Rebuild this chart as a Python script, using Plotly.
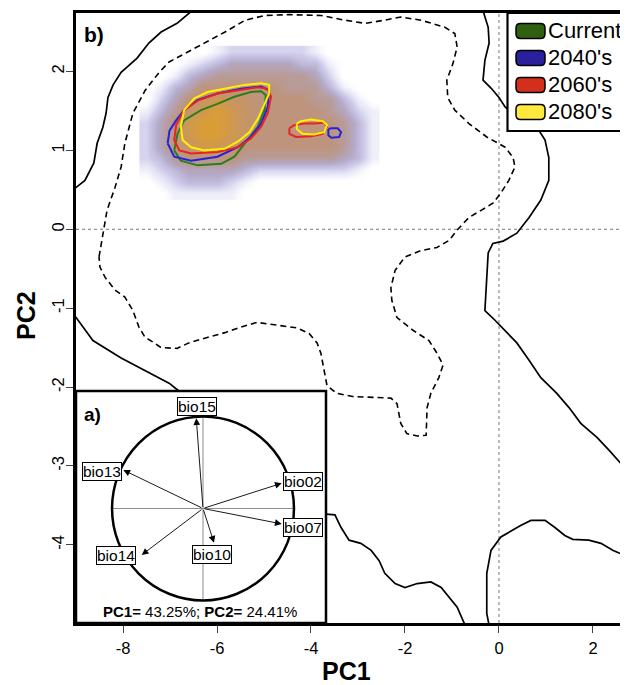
import plotly.graph_objects as go

FONT = "Liberation Sans, Arial, sans-serif"

# ---------------- data (PC1 / PC2 units) ----------------
x_ticks = [-8, -6, -4, -2, 0, 2]
x_tick_labels = ["-8", "-6", "-4", "-2", "0", "2"]
y_ticks = [-4, -3, -2, -1, 0, 1, 2]
y_tick_labels = ["-4", "-3", "-2", "-1", "0", "1", "2"]

# environmental background, solid contour (pieces)
solid_contour = [
    [(-6.53, 2.77), (-6.85, 2.61), (-7.19, 2.50), (-7.45, 2.36), (-7.70, 2.17), (-8.04, 1.99),
     (-8.21, 1.83), (-8.32, 1.67), (-8.36, 1.47), (-8.43, 1.29), (-8.55, 1.09), (-8.62, 0.84),
     (-8.81, 0.62), (-9.02, 0.52)],
    [(-9.02, -1.10), (-8.64, -1.41), (-8.04, -1.63), (-7.53, -1.79), (-7.02, -1.95), (-6.81, -2.05)],
    [(-3.68, -3.61), (-3.49, -3.62), (-3.36, -3.78), (-3.19, -3.94), (-2.94, -3.98), (-2.72, -4.07),
     (-2.55, -4.20), (-2.43, -4.36), (-2.21, -4.49), (-2.00, -4.54), (-1.74, -4.49), (-1.45, -4.47),
     (-1.23, -4.54), (-1.06, -4.66), (-0.89, -4.79), (-0.72, -5.02)],
    [(-0.21, -5.02), (-0.26, -4.87), (-0.26, -4.36), (-0.17, -4.07), (0.04, -3.90), (0.21, -3.84),
     (0.47, -3.75), (0.68, -3.69), (0.98, -3.69), (1.19, -3.78), (1.40, -3.88), (1.57, -3.93),
     (1.91, -3.94), (2.17, -3.98), (2.43, -4.07), (2.78, -4.16)],
    [(-0.34, 2.77), (-0.23, 2.56), (-0.21, 2.36), (-0.30, 2.14), (-0.34, 1.89), (-0.17, 1.79),
     (0.00, 1.67), (0.13, 1.55), (0.38, 1.42), (0.81, 1.29), (0.98, 1.13), (1.06, 0.91),
     (1.06, 0.62), (0.89, 0.37), (0.64, 0.15), (0.38, -0.05), (0.09, -0.15), (-0.13, -0.18),
     (-0.23, -0.30), (-0.26, -0.61), (-0.28, -0.90), (-0.30, -1.03), (-0.09, -1.15), (0.13, -1.28),
     (0.38, -1.44), (0.64, -1.66), (0.89, -1.88), (1.23, -2.08), (1.49, -2.26), (1.74, -2.46),
     (2.09, -2.64), (2.34, -2.80), (2.60, -2.97), (2.78, -3.09)],
]

# environmental background, dashed contour (closed)
dashed_contour = [
    (-8.51, -0.35), (-8.43, -0.05), (-8.34, 0.24), (-8.17, 0.53), (-8.04, 0.79), (-7.96, 1.09),
    (-7.79, 1.47), (-7.53, 1.76), (-7.23, 1.99), (-7.02, 2.12), (-6.68, 2.23), (-6.26, 2.36),
    (-5.83, 2.50), (-5.40, 2.65), (-4.98, 2.71), (-4.47, 2.72), (-3.79, 2.71), (-3.28, 2.65),
    (-2.85, 2.61), (-2.43, 2.65), (-2.09, 2.69), (-1.66, 2.65), (-1.15, 2.56), (-0.94, 2.48),
    (-0.89, 2.31), (-0.98, 2.10), (-1.11, 1.89), (-1.09, 1.67), (-0.94, 1.51), (-0.64, 1.34),
    (-0.26, 1.17), (0.13, 1.04), (0.30, 0.91), (0.34, 0.79), (0.21, 0.62), (0.04, 0.46),
    (-0.13, 0.33), (-0.38, 0.24), (-0.64, 0.15), (-0.89, -0.01), (-1.06, -0.14), (-1.32, -0.23),
    (-1.66, -0.27), (-2.00, -0.35), (-2.21, -0.52), (-2.30, -0.74), (-2.28, -0.90), (-2.17, -1.12),
    (-1.83, -1.28), (-1.49, -1.41), (-1.32, -1.57), (-1.19, -1.72), (-1.28, -1.88), (-1.45, -2.08),
    (-1.53, -2.26), (-1.55, -2.61), (-1.74, -2.62), (-1.96, -2.59), (-2.09, -2.46), (-2.17, -2.21),
    (-2.30, -2.14), (-2.68, -2.13), (-3.11, -2.12), (-3.45, -2.08), (-3.66, -1.98), (-3.72, -1.79),
    (-3.79, -1.57), (-3.87, -1.44), (-4.04, -1.32), (-4.30, -1.25), (-4.64, -1.22), (-5.15, -1.18),
    (-5.49, -1.24), (-5.83, -1.31), (-6.26, -1.38), (-6.60, -1.44), (-6.85, -1.51), (-7.19, -1.50),
    (-7.36, -1.43), (-7.53, -1.37), (-7.66, -1.24), (-7.79, -1.03), (-7.96, -0.86), (-8.17, -0.77),
    (-8.38, -0.61), (-8.49, -0.48),
]

# occupancy density raster (read on a coarse grid, 0..9)
dens_x = [-7.5, -7.2, -6.9, -6.6, -6.3, -6.0, -5.7, -5.4, -5.1, -4.8, -4.5, -4.2, -3.9, -3.6, -3.3, -3.0, -2.7]
dens_y = [0.45, 0.60, 0.75, 0.90, 1.05, 1.20, 1.35, 1.50, 1.65, 1.80, 1.95, 2.10, 2.25]
dens_z = [
    [0, 0, 1, 1, 1, 1, 1, 0, 0, 0, 0, 0, 0, 0, 0, 0, 0],
    [0, 1, 2, 3, 3, 3, 2, 1, 0, 0, 0, 0, 0, 0, 0, 0, 0],
    [1, 2, 3, 4, 4, 4, 4, 3, 2, 2, 2, 2, 2, 2, 2, 1, 0],
    [2, 3, 5, 6, 6, 6, 6, 5, 5, 5, 5, 5, 5, 5, 4, 3, 1],
    [2, 4, 6, 7, 8, 8, 7, 6, 6, 6, 6, 6, 6, 6, 5, 3, 1],
    [2, 4, 6, 8, 9, 9, 8, 7, 6, 6, 6, 6, 6, 6, 5, 3, 1],
    [2, 4, 6, 8, 9, 9, 8, 7, 6, 6, 6, 6, 6, 6, 5, 3, 1],
    [1, 3, 5, 7, 8, 9, 8, 7, 6, 6, 6, 6, 6, 5, 4, 2, 1],
    [0, 2, 4, 6, 7, 8, 7, 7, 6, 6, 6, 6, 5, 5, 3, 1, 0],
    [0, 1, 3, 4, 6, 6, 6, 6, 6, 6, 5, 5, 5, 3, 1, 0, 0],
    [0, 0, 1, 3, 4, 5, 5, 5, 5, 5, 5, 5, 4, 2, 0, 0, 0],
    [0, 0, 0, 1, 2, 3, 4, 4, 4, 4, 4, 3, 3, 1, 0, 0, 0],
    [0, 0, 0, 0, 0, 1, 2, 2, 2, 2, 2, 2, 1, 0, 0, 0, 0],
]

periods = ["Current", "2040's", "2060's", "2080's"]
line_colors = ["#2b7d1e", "#2323dc", "#e82323", "#fff000"]
swatch_colors = ["#2f5f10", "#2a1f9c", "#d2301c", "#ffe93c"]

# niche contours per period (closed loops)
niche_contours = {
    "Current": [
        [(-6.91, 1.00), (-6.84, 1.21), (-6.70, 1.38), (-6.34, 1.51), (-5.99, 1.59), (-5.63, 1.68),
         (-5.28, 1.74), (-5.06, 1.75), (-4.96, 1.70), (-4.99, 1.51), (-5.13, 1.30), (-5.35, 1.13),
         (-5.63, 0.92), (-5.91, 0.83), (-6.41, 0.81), (-6.77, 0.87)],
    ],
    "2040's": [
        [(-7.05, 1.09), (-7.01, 1.25), (-6.87, 1.38), (-6.70, 1.51), (-6.41, 1.64), (-5.99, 1.72),
         (-5.49, 1.78), (-5.06, 1.81), (-4.89, 1.76), (-4.92, 1.55), (-5.06, 1.34), (-5.28, 1.17),
         (-5.56, 1.04), (-5.99, 0.92), (-6.55, 0.87), (-6.91, 0.92)],
        [(-3.63, 1.27), (-3.57, 1.28), (-3.43, 1.28), (-3.36, 1.23), (-3.40, 1.17), (-3.57, 1.16),
         (-3.63, 1.19)],
    ],
    "2060's": [
        [(-6.91, 1.13), (-6.87, 1.32), (-6.70, 1.51), (-6.41, 1.63), (-5.99, 1.72), (-5.56, 1.76),
         (-5.13, 1.80), (-4.92, 1.78), (-4.85, 1.68), (-4.92, 1.47), (-5.06, 1.30), (-5.28, 1.15),
         (-5.56, 1.04), (-5.99, 0.98), (-6.55, 0.96), (-6.80, 1.00)],
        [(-4.46, 1.28), (-4.36, 1.32), (-4.14, 1.34), (-3.93, 1.34), (-3.72, 1.35), (-3.66, 1.30),
         (-3.75, 1.21), (-4.00, 1.18), (-4.32, 1.17), (-4.46, 1.21)],
    ],
    "2080's": [
        [(-6.77, 1.30), (-6.70, 1.51), (-6.48, 1.66), (-6.20, 1.74), (-5.84, 1.78), (-5.42, 1.83),
         (-5.06, 1.85), (-4.89, 1.83), (-4.89, 1.72), (-4.99, 1.59), (-5.13, 1.40), (-5.31, 1.23),
         (-5.56, 1.11), (-5.84, 1.02), (-6.27, 1.00), (-6.55, 1.04), (-6.73, 1.13)],
        [(-4.30, 1.34), (-4.21, 1.37), (-4.00, 1.39), (-3.75, 1.37), (-3.66, 1.32), (-3.72, 1.23),
         (-3.93, 1.20), (-4.18, 1.21), (-4.30, 1.27)],
    ],
}

# correlation circle (inset a)
variables = ["bio15", "bio13", "bio02", "bio07", "bio14", "bio10"]
load_pc1 = [-0.074, -0.876, 0.865, 0.865, -0.674, 0.121]
load_pc2 = [0.980, 0.418, 0.274, -0.168, -0.505, -0.372]
label_pc1 = [-0.066, -1.110, 1.096, 1.096, -0.953, 0.097]
label_pc2 = [1.109, 0.400, 0.291, -0.203, -0.516, -0.502]
inertia_pc1 = "43.25%"
inertia_pc2 = "24.41%"

# ---------------- figure ----------------
BODY = 8                      # default page margin around the plot div
W, H = 628 - BODY, 685 - BODY
ML, MR, MT, MB = 76 - BODY, 0, 13 - BODY, 62
PW, PH = W - ML - MR, H - MT - MB
LEFT, BOTTOM = 76, 685 - MB   # page pixels of plot-area edges


def px_x(p):
    return (p - LEFT) / PW


def px_y(p):
    return (BOTTOM - p) / PH


def join(parts):
    xs, ys = [], []
    for part in parts:
        xs += [p[0] for p in part] + [None]
        ys += [p[1] for p in part] + [None]
    return xs, ys


fig = go.Figure()

fig.add_trace(go.Heatmap(
    x=dens_x, y=dens_y, z=dens_z, zmin=0, zmax=9, zsmooth="best", showscale=False,
    hoverinfo="skip",
    colorscale=[[0.0, "rgba(255,255,255,0)"], [0.1, "rgba(226,226,246,0.5)"],
                [0.25, "rgba(198,195,230,0.88)"], [0.4, "rgb(180,170,202)"],
                [0.55, "rgb(184,156,152)"], [0.67, "rgb(190,148,124)"],
                [0.78, "rgb(198,149,104)"], [0.89, "rgb(208,152,80)"], [1.0, "rgb(218,157,54)"]],
))

dx, dy = join([dashed_contour + dashed_contour[:1]])
fig.add_trace(go.Scatter(x=dx, y=dy, mode="lines", hoverinfo="skip",
                         line=dict(color="black", width=1.6, dash="6px,4px")))

sx, sy = join(solid_contour)
fig.add_trace(go.Scatter(x=sx, y=sy, mode="lines", hoverinfo="skip",
                         line=dict(color="black", width=1.7)))

for name, col in zip(periods, line_colors):
    loops = [lp + lp[:1] for lp in niche_contours[name]]
    cx, cy = join(loops)
    fig.add_trace(go.Scatter(x=cx, y=cy, mode="lines", hoverinfo="skip",
                             line=dict(color=col, width=2)))

# dummy trace to activate inset axes
fig.add_trace(go.Scatter(x=[0], y=[0], xaxis="x2", yaxis="y2", mode="markers",
                         marker=dict(opacity=0), hoverinfo="skip"))

shapes = []
# zero reference lines
shapes.append(dict(type="line", xref="x", yref="paper", x0=0, x1=0, y0=0, y1=1, layer="below",
                   line=dict(color="#777777", width=1, dash="dot")))
shapes.append(dict(type="line", xref="paper", yref="y", x0=0, x1=1, y0=0, y1=0, layer="below",
                   line=dict(color="#777777", width=1, dash="dot")))

# inset panel
inset_x1 = px_x(326)
inset_y1 = px_y(391)
shapes.append(dict(type="rect", xref="paper", yref="paper", x0=0, x1=inset_x1, y0=0, y1=inset_y1,
                   fillcolor="white", line=dict(color="black", width=2.5), layer="above"))
shapes.append(dict(type="line", xref="x2", yref="y2", x0=-1, x1=1, y0=0, y1=0, layer="above",
                   line=dict(color="#8c8c8c", width=1)))
shapes.append(dict(type="line", xref="x2", yref="y2", x0=0, x1=0, y0=-1, y1=1, layer="above",
                   line=dict(color="#8c8c8c", width=1)))
shapes.append(dict(type="circle", xref="x2", yref="y2", x0=-1, x1=1, y0=-1, y1=1, layer="above",
                   line=dict(color="black", width=2.5)))

# legend box
shapes.append(dict(type="rect", xref="paper", yref="paper", x0=px_x(507.5), x1=1.05, y0=px_y(131),
                   y1=1.0, fillcolor="white", line=dict(color="black", width=2.2), layer="above"))

annotations = []
row_y = [31, 58, 85, 112]
for name, col, ry in zip(periods, swatch_colors, row_y):
    x0, x1 = px_x(516), px_x(545)
    y0, y1 = px_y(ry + 7.5), px_y(ry - 7.5)
    rx, ryy = 4.5 / PW, 4.5 / PH
    path = (f"M {x0+rx},{y0} L {x1-rx},{y0} Q {x1},{y0} {x1},{y0+ryy} L {x1},{y1-ryy} "
            f"Q {x1},{y1} {x1-rx},{y1} L {x0+rx},{y1} Q {x0},{y1} {x0},{y1-ryy} "
            f"L {x0},{y0+ryy} Q {x0},{y0} {x0+rx},{y0} Z")
    shapes.append(dict(type="path", xref="paper", yref="paper", path=path, fillcolor=col,
                       line=dict(color="black", width=1.5), layer="above"))
    annotations.append(dict(xref="paper", yref="paper", x=px_x(546), y=px_y(ry), text=name,
                            showarrow=False, xanchor="left", yanchor="middle",
                            font=dict(family=FONT, size=22, color="black")))

# arrows and labels in the correlation circle
for v, a, b, la, lb in zip(variables, load_pc1, load_pc2, label_pc1, label_pc2):
    annotations.append(dict(xref="x2", yref="y2", axref="x2", ayref="y2", x=a, y=b, ax=0, ay=0,
                            text="", showarrow=True, arrowhead=2, arrowsize=1.5, arrowwidth=0.9,
                            arrowcolor="black", standoff=0))
    annotations.append(dict(xref="x2", yref="y2", x=la, y=lb, text=v, showarrow=False,
                            xanchor="center", yanchor="middle",
                            bgcolor="white", bordercolor="black", borderwidth=1, borderpad=0,
                            font=dict(family=FONT, size=15.5, color="black")))


def note(xp, yp, text, size, angle=0):
    annotations.append(dict(xref="paper", yref="paper", x=px_x(xp), y=px_y(yp), text=text,
                            showarrow=False, xanchor="center", yanchor="middle", textangle=angle,
                            font=dict(family=FONT, size=size, color="black")))


note(200, 611, f"<b>PC1=</b> {inertia_pc1}; <b>PC2=</b> {inertia_pc2}", 15)
note(92, 414, "<b>a)</b>", 19)
note(94, 34, "<b>b)</b>", 21)
note(346, 671, "<b>PC1</b>", 25)
note(26, 316, "<b>PC2</b>", 25, -90)

fig.update_layout(
    width=W, height=H, margin=dict(l=ML, r=MR, t=MT, b=MB),
    paper_bgcolor="white", plot_bgcolor="white", showlegend=False,
    font=dict(family=FONT, color="black"),
    xaxis=dict(range=[-9.0, 2.745], tickvals=x_ticks, ticktext=x_tick_labels, ticks="outside",
               ticklen=7, tickwidth=1, tickcolor="#444", showline=True, linewidth=2.5,
               linecolor="black", mirror=True, showgrid=False, zeroline=False,
               tickfont=dict(family=FONT, size=16.5, color="black"), ticklabelstandoff=1),
    yaxis=dict(range=[-4.99, 2.741], tickvals=y_ticks, ticktext=y_tick_labels, ticks="outside",
               ticklen=7, tickwidth=1, tickcolor="#444", showline=True, linewidth=2.5,
               linecolor="black", showgrid=False, zeroline=False, tickangle=-90,
               tickfont=dict(family=FONT, size=16.5, color="black"), ticklabelstandoff=-4),
    xaxis2=dict(domain=[0, inset_x1], range=[-1.396, 1.352], anchor="y2", visible=False),
    yaxis2=dict(domain=[0, inset_y1], range=[-1.245, 1.277], anchor="x2", visible=False),
    shapes=shapes, annotations=annotations,
)

fig.write_html("out.html")
